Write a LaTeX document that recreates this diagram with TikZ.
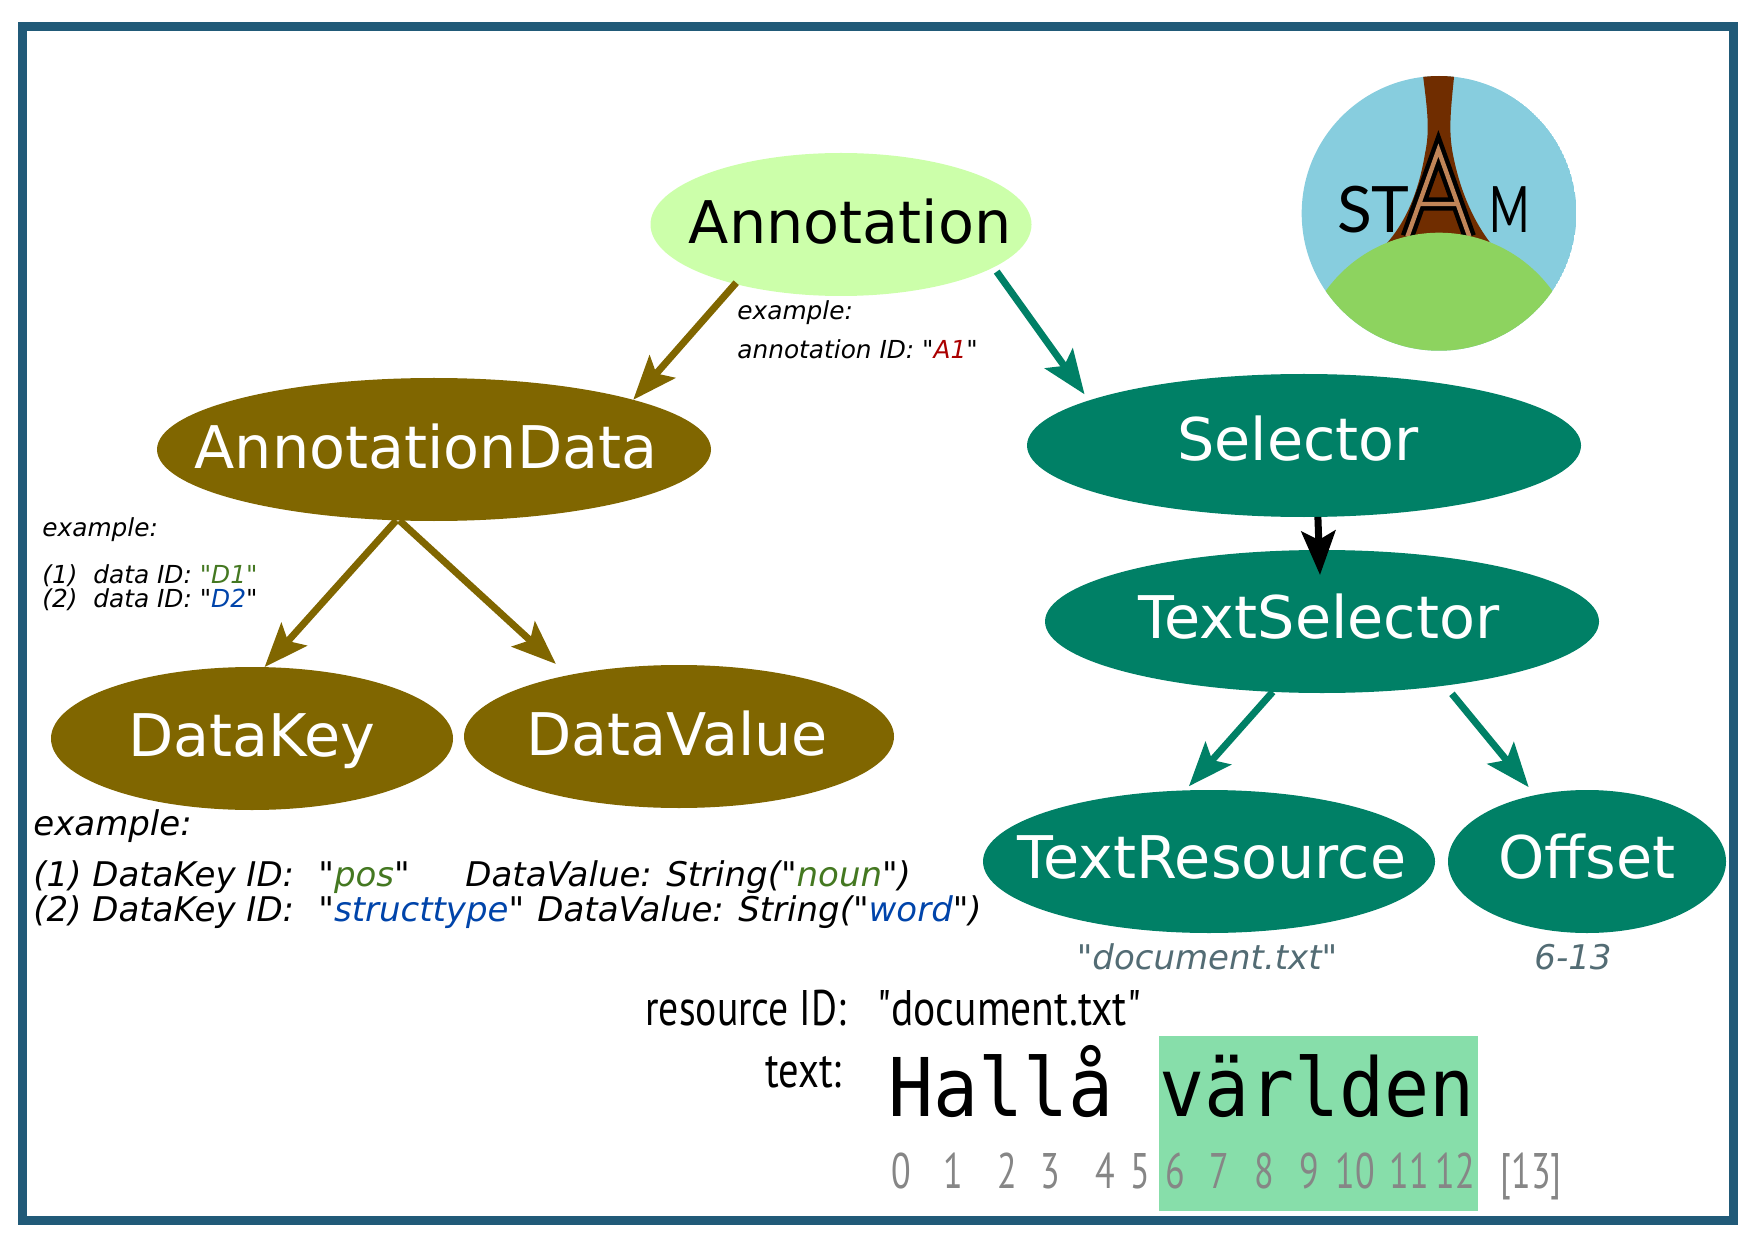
\documentclass[tikz,border=0pt]{standalone}
\usepackage{fontspec}
\newfontfamily\dvs{DejaVu Sans}
\newfontfamily\condf[FakeStretch=0.81]{PT Sans}
\newfontfamily\condd[FakeStretch=0.72]{PT Sans}
\newfontfamily\monof[FakeStretch=0.925]{DejaVu Sans Mono}
\newfontfamily\logof{Lato}
\usetikzlibrary{shapes.geometric,arrows.meta}
\definecolor{framec}{HTML}{215A78}
\definecolor{brownc}{HTML}{806600}
\definecolor{tealc}{HTML}{008066}
\definecolor{annc}{HTML}{CCFFAA}
\definecolor{hlc}{HTML}{87DEAA}
\definecolor{gr}{HTML}{447821}
\definecolor{bl}{HTML}{0044AA}
\definecolor{rd}{HTML}{AA0000}
\definecolor{lbl}{HTML}{536C74}
\definecolor{sky}{HTML}{87CDDE}
\definecolor{hill}{HTML}{8DD35F}
\definecolor{tower}{HTML}{702D00}
\definecolor{abar}{HTML}{C08558}
\tikzset{
  ell/.style={ellipse,inner sep=0pt,outer sep=0pt,fill=#1,minimum height=71.5pt},
  etext/.style={anchor=base,inner sep=0pt,font=\fontsize{29.4}{29.4}\selectfont\dvs,text=#1},
  conn/.style={draw=#1,line width=3.5pt,-{Stealth[length=22pt,width=17pt,inset=4.5pt]}},
  small/.style={anchor=base west,inner sep=0pt,font=\fontsize{12.4}{12.4}\selectfont\dvs\itshape},
  big/.style={anchor=base west,inner sep=0pt,font=\fontsize{17}{17}\selectfont\dvs\itshape},
  cond/.style={anchor=base west,inner sep=0pt,font=\fontsize{25}{25}\selectfont\condf},
  digit/.style={anchor=base,inner sep=0pt,text=gray!95,font=\fontsize{25}{25}\selectfont\condd},
  loglet/.style={anchor=base west,inner sep=0pt,font=\fontsize{32}{32}\selectfont\logof},
}
\begin{document}
\begin{tikzpicture}[x=0.5pt,y=-0.5pt]
\useasboundingbox (0,0) rectangle (1754,1240);
\draw[framec,line width=4.5pt] (22.5,27) rectangle (1733,1220);
% logo
\begin{scope}[shift={(1270,50)},x=0.1667pt,y=-0.1667pt]
 \begin{scope}
  \clip (507,490) circle [radius=412];
  \fill[sky] (507,490) circle [radius=412];
  \fill[tower] (458,70) .. controls (472,180) and (480,240) .. (465,310) .. controls (450,400) and (420,500) .. (350,580) -- (662,580) .. controls (600,500) and (565,400) .. (548,310) .. controls (535,240) and (542,180) .. (553,70) -- cycle;
  \draw[black,line width=6.7pt,miter limit=10] (412,560) -- (505,300) -- (598,560) (452,462) -- (558,462);
  \draw[abar,line width=2.2pt,miter limit=10] (412,560) -- (505,300) -- (598,560) (442,462) -- (568,462);
  \fill[hill] (507,966) circle [radius=418];
 \end{scope}
 \node[loglet] (logoS) at (200,547) {S};
 \node[loglet] (logoT) at (303,547) {T};
 \node[loglet] (logoM) at (656,547) {\scalebox{0.68}[1]{M}};
\end{scope}
% highlight
\fill[hlc] (1159,1036) rectangle (1478,1211);
% nodes
\node[ell=annc,minimum width=190.5pt] (annot) at (841,224.5) {};
\node[ell=brownc,minimum width=277pt] (adata) at (434,449.5) {};
\node[ell=brownc,minimum width=201pt] (dkey) at (252,738.5) {};
\node[ell=brownc,minimum width=215pt] (dval) at (679,736.5) {};
\node[ell=tealc,minimum width=277pt] (sel) at (1304,445.5) {};
\node[ell=tealc,minimum width=277pt] (tsel) at (1322,621.5) {};
\node[ell=tealc,minimum width=226pt] (tres) at (1209,861.5) {};
\node[ell=tealc,minimum width=139pt] (off) at (1587,861.5) {};
\node[etext=black] (annotT) at (850,244) {Annotation};
\node[etext=white] (adataT) at (426,468) {AnnotationData};
\node[etext=white] (dkeyT) at (252,756) {DataKey};
\node[etext=white] (dvalT) at (677,755) {DataValue};
\node[etext=white] (selT) at (1298,460) {Selector};
\node[etext=white] (tselT) at (1319,638) {TextSelector};
\node[etext=white] (tresT) at (1212,878) {TextResource};
\node[etext=white] (offT) at (1587,878) {Offset};
% connectors
\draw[conn=brownc] ([shift={(2,-1)}]annot.209) -- (adata.14);
\draw[conn=tealc] ([shift={(8,2)}]annot.-17) -- ([shift={(-13,-3.5)}]sel.167);
\draw[conn=brownc] (adata.242) -- (dkey.80);
\draw[conn=brownc] (adata.244) -- ([shift={(-19,-10)}]dval.149);
\draw[conn=black] (sel.-79) -- ([shift={(-2,25)}]tsel.north);
\draw[conn=tealc] (tsel.235) -- ([shift={(-1,-4)}]tres.105);
\draw[conn=tealc] ([shift={(13,7.5)}]tsel.-29) -- ([shift={(-6.5,-8)}]off.128);
% small labels
\node[small] (ex1) at (737,320) {example:};
\node[small] (ex1b) at (737,359) {annotation ID: "\textcolor{rd}{A1}"};
\node[small] (ex2) at (42,536) {example:};
\node[small] (l1) at (42,583) {(1)};
\node[small] (l1b) at (93,583) {data ID: \textcolor{gr}{"D1"}};
\node[small] (l2) at (42,607) {(2)};
\node[small] (l2b) at (93,607) {data ID: "\textcolor{bl}{D2}"};
% big labels
\node[big] (ex3) at (33,835) {example:};
\node[big] (k1) at (33,886) {(1) DataKey ID:};
\node[big] (k1v) at (318,886) {"\textcolor{gr}{pos}"};
\node[big] (v1) at (465,886) {DataValue: String("\textcolor{gr}{noun}")};
\node[big] (k2) at (33,921) {(2) DataKey ID:};
\node[big] (k2v) at (318,921) {"\textcolor{bl}{structtype}"};
\node[big] (v2) at (537,921) {DataValue: String("\textcolor{bl}{word}")};
\node[big,anchor=base,text=lbl] (docl) at (1207,969) {"document.txt"};
\node[big,anchor=base,text=lbl] (offl) at (1573,969) {6-13};
% resource
\node[cond] (rid) at (645,1025) {\scalebox{0.98}[1]{resource ID:}};
\node[cond] (ridv) at (877,1025) {\scalebox{1.025}[1]{"document.txt"}};
\node[cond] (txtl) at (765,1087) {text:};
\node[anchor=base west,inner sep=0pt,font=\fontsize{40.5}{40.5}\selectfont\monof] (txt) at (888,1116) {Hallå världen};
\foreach \n/\x in {0/901,1/953,2/1007,3/1050,4/1105,5/1140,6/1175,7/1219,8/1264,9/1309,10/1355,11/1409,12/1455,[13]/1531}
  \node[digit] (d\x) at (\x,1188) {\n};
\end{tikzpicture}
\end{document}
